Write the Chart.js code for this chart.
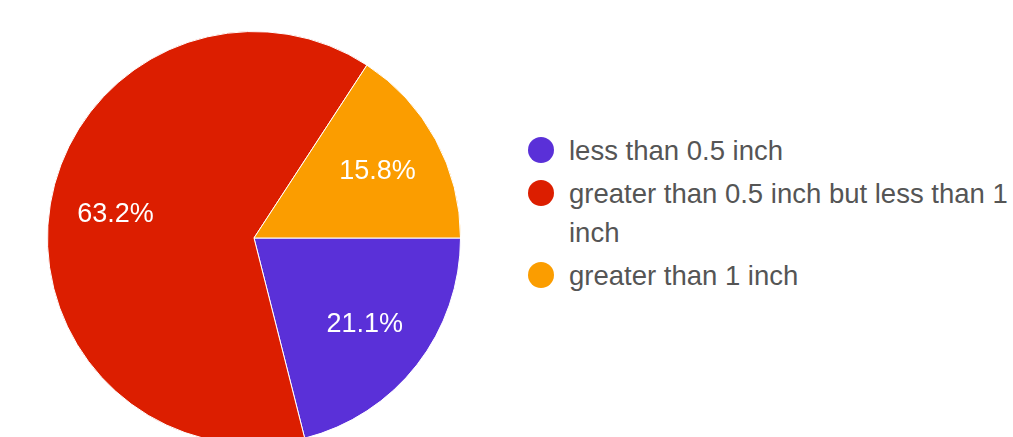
<!DOCTYPE html>
<html>
<head>
<meta charset="utf-8">
<script src="https://cdn.jsdelivr.net/npm/chart.js@4"></script>
<style>
  html, body { margin: 0; padding: 0; background: #fff; width: 1013px; height: 437px; overflow: hidden; }
  #pieBox { position: absolute; left: 47px; top: 31px; width: 414px; height: 414px; }
  #legend { position: absolute; left: 528px; top: 131px; font-family: "Liberation Sans", Arial, sans-serif; font-size: 27.5px; color: #555; }
  .item { display: flex; align-items: flex-start; margin-bottom: 4px; }
  .dot { width: 26px; height: 26px; border-radius: 50%; margin-top: 6px; margin-right: 15px; flex: none; }
  .txt { line-height: 39px; width: 455px; }
</style>
</head>
<body>
<div id="pieBox"><canvas id="pie"></canvas></div>
<div id="legend"></div>
<script>
// Donnees du graphique
const labels = ['less than 0.5 inch', 'greater than 0.5 inch but less than 1 inch', 'greater than 1 inch'];
const counts = [4, 12, 3];
const colors = ['#5a30d8', '#dc1e00', '#fb9d00'];

const total = counts.reduce((a, b) => a + b, 0);

// Pourcentages dessines dans chaque part
const sliceLabels = {
    id: 'sliceLabels',
    afterDatasetsDraw(chart) {
        const ctx = chart.ctx;
        const meta = chart.getDatasetMeta(0);
        ctx.save();
        ctx.font = '27px "Liberation Sans", Arial, sans-serif';
        ctx.fillStyle = '#ffffff';
        ctx.textAlign = 'center';
        ctx.textBaseline = 'middle';
        meta.data.forEach((arc, i) => {
            const p = arc.getProps(['x', 'y', 'startAngle', 'endAngle', 'outerRadius'], true);
            const mid = (p.startAngle + p.endAngle) / 2;
            const r = p.outerRadius * 0.68;
            const pct = (counts[i] / total * 100).toFixed(1) + '%';
            ctx.fillText(pct, p.x + Math.cos(mid) * r, p.y + Math.sin(mid) * r);
        });
        ctx.restore();
    }
};

new Chart(document.getElementById('pie'), {
    type: 'pie',
    data: {
        labels: labels,
        datasets: [{
            data: counts,
            backgroundColor: colors,
            borderColor: '#ffffff',
            borderWidth: 1
        }]
    },
    options: {
        responsive: true,
        maintainAspectRatio: false,
        animation: false,
        rotation: 90,
        plugins: {
            legend: { display: false },
            tooltip: { enabled: false }
        }
    },
    plugins: [sliceLabels]
});

// Legende HTML (le texte long passe a la ligne)
const legend = document.getElementById('legend');
labels.forEach((label, i) => {
    const item = document.createElement('div');
    item.className = 'item';
    const dot = document.createElement('div');
    dot.className = 'dot';
    dot.style.background = colors[i];
    const txt = document.createElement('div');
    txt.className = 'txt';
    txt.textContent = label;
    item.appendChild(dot);
    item.appendChild(txt);
    legend.appendChild(item);
});
</script>
</body>
</html>
